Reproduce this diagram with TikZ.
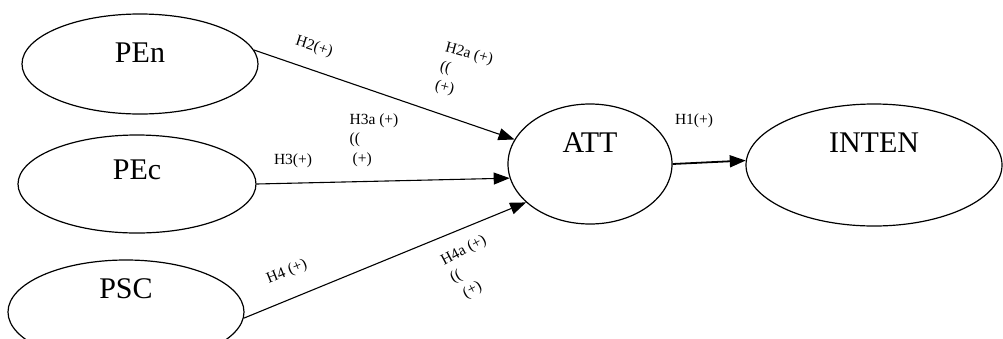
\documentclass[tikz,border=0pt]{standalone}
\usepackage{fontspec}
\setmainfont{Liberation Serif}
\usetikzlibrary{shapes.geometric,arrows.meta}
\begin{document}
\begin{tikzpicture}[x=1pt,y=-1pt,
    construct/.style={draw, ellipse, line width=1.2pt, inner sep=0pt},
    cname/.style={font=\fontsize{30}{30}\selectfont, inner sep=0pt},
    hyp/.style={font=\fontsize{15.5}{19.5}\selectfont, inner sep=0pt},
    path/.style={-{Triangle[length=16pt,width=12pt]}, line width=1.1pt}]
    \useasboundingbox (0,0) rectangle (1003,338);
    % constructs: name/x/y/width/height/text/text lift
    \foreach \nm/\x/\y/\w/\h/\lbl/\up in {pen/140/64/236/100/PEn/11,
        pec/137/184/238/98/PEc/14, psc/126/312/236/104/PSC/23,
        att/590/164/164/120/ATT/21, inten/874/165/256/122/INTEN/22} {
        \node[construct, minimum width=\w, minimum height=\h] (\nm) at (\x,\y) {};
        \node[cname] (\nm-t) at ([yshift=\up]\nm.center) {\lbl};
    }
    \draw[path] (pen.7) -- (att.162);
    \draw[path] (pec.0) -- (att.190);
    \draw[path] (psc.-3) -- (att.211);
    \draw[path, line width=1.8pt] (att.east) -- (inten.178);
    % hypotheses
    \node[hyp, rotate=-18] (h2) at (314,47) {H2(+)};
    \node[hyp, rotate=-15, align=left] (h2a) at (464,73) {H2a (+)\\((\\(+)};
    \node[hyp] (h3) at (293,161) {H3(+)};
    \node[hyp, align=left] (h3a) at (374,140) {H3a (+)\\((\\\hspace*{3pt}(+)};
    \node[hyp, rotate=22] (h4) at (287,272) {H4 (+)};
    \node[hyp, rotate=28, align=left] (h4a) at (473,268) {H4a (+)\\((\\\hspace*{4pt}(+)};
    \node[hyp] (h1) at (694,121) {H1(+)};
\end{tikzpicture}
\end{document}
